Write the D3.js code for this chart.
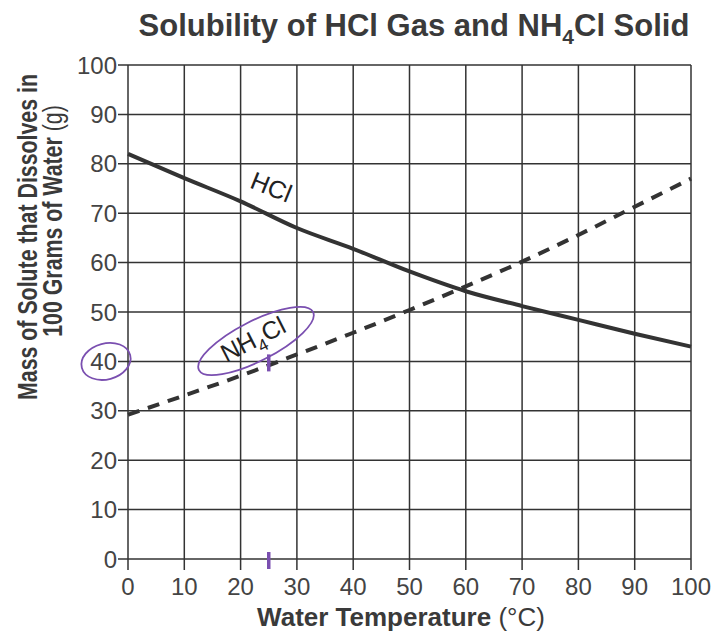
<!DOCTYPE html>
<html>
<head>
<meta charset="utf-8">
<script src="https://cdn.jsdelivr.net/npm/d3@7"></script>
<style>
  body { margin: 0; background: #fff; }
  text { font-family: "Liberation Sans", Arial, Helvetica, sans-serif; fill: #333; }
</style>
</head>
<body>
<div id="chart"></div>
<script>
// data
const temps = [0, 10, 20, 30, 40, 50, 60, 70, 80, 90, 100]
const hclMass = [82, 77.1, 72.4, 67, 62.8, 58.2, 54.2, 51.2, 48.4, 45.6, 43]
const nh4clMass = [29.2, 33.1, 37.1, 41.4, 45.8, 50.4, 55.2, 60.2, 65.6, 71.3, 77]
const xTicks = [0, 10, 20, 30, 40, 50, 60, 70, 80, 90, 100]
const yTicks = [0, 10, 20, 30, 40, 50, 60, 70, 80, 90, 100]

let width = 714
let height = 637
const ink = "#333"
const pen = "#7a4fb0"

let svg = d3.select("#chart")
  .append("svg")
  .attr("width", width)
  .attr("height", height)

let x = d3.scaleLinear().domain([0, 100]).range([128, 691])
let y = d3.scaleLinear().domain([0, 100]).range([559, 65])

// grid
svg.append("g")
  .selectAll("line")
  .data(xTicks)
  .enter().append("line")
  .attr("x1", d => x(d)).attr("x2", d => x(d))
  .attr("y1", y(100)).attr("y2", y(0) + 11)
  .attr("stroke", ink).attr("stroke-width", 1.5)

svg.append("g")
  .selectAll("line")
  .data(yTicks)
  .enter().append("line")
  .attr("x1", x(0) - 10).attr("x2", x(100))
  .attr("y1", d => y(d)).attr("y2", d => y(d))
  .attr("stroke", ink).attr("stroke-width", 1.5)

// tick labels
svg.append("g")
  .selectAll("text")
  .data(yTicks)
  .enter().append("text")
  .attr("x", x(0) - 11)
  .attr("y", d => y(d) + 8.5)
  .attr("text-anchor", "end")
  .style("font-size", "24px")
  .style("fill", "#444")
  .text(d => d)

svg.append("g")
  .selectAll("text")
  .data(xTicks)
  .enter().append("text")
  .attr("x", d => x(d))
  .attr("y", 595)
  .attr("text-anchor", "middle")
  .style("font-size", "24px")
  .style("fill", "#444")
  .text(d => d)

// curves
let line = d3.line()
  .x((d, i) => x(temps[i]))
  .y(d => y(d))
  .curve(d3.curveMonotoneX)

svg.append("path")
  .attr("d", line(hclMass))
  .attr("fill", "none")
  .attr("stroke", ink)
  .attr("stroke-width", 4)

svg.append("path")
  .attr("d", line(nh4clMass))
  .attr("fill", "none")
  .attr("stroke", ink)
  .attr("stroke-width", 4)
  .attr("stroke-dasharray", "12,9")

// curve labels
svg.append("text")
  .attr("transform", "translate(268,195) rotate(22)")
  .attr("text-anchor", "middle")
  .style("font-size", "25px")
  .style("fill", "#222")
  .text("HCl")

let nh = svg.append("text")
  .attr("transform", "translate(257,347) rotate(-27)")
  .attr("text-anchor", "middle")
  .style("font-size", "25px")
  .style("fill", "#222")
nh.append("tspan").text("NH")
nh.append("tspan").attr("dy", 7).style("font-size", "17px").text("4")
nh.append("tspan").attr("dy", -7).text("Cl")

// hand drawn pen marks
svg.append("ellipse")
  .attr("transform", "translate(256,341) rotate(-27)")
  .attr("rx", 64).attr("ry", 20)
  .attr("fill", "none").attr("stroke", pen).attr("stroke-width", 1.8)

svg.append("ellipse")
  .attr("transform", `translate(${x(0) - 22},${y(40)}) rotate(-15)`)
  .attr("rx", 25).attr("ry", 18)
  .attr("fill", "none").attr("stroke", pen).attr("stroke-width", 1.8)

svg.append("g")
  .selectAll("line")
  .data([40, 0])
  .enter().append("line")
  .attr("x1", x(25)).attr("x2", x(25))
  .attr("y1", d => y(d) - 7).attr("y2", d => y(d) + 10)
  .attr("stroke", pen).attr("stroke-width", 3.5)

// title
let title = svg.append("text")
  .attr("x", 414)
  .attr("y", 36)
  .attr("text-anchor", "middle")
  .style("font-size", "31px")
  .style("font-weight", "bold")
  .style("fill", "#3a3a3a")
title.append("tspan").text("Solubility of HCl Gas and NH")
title.append("tspan").attr("dy", 8).style("font-size", "21px").text("4")
title.append("tspan").attr("dy", -8).text("Cl Solid")

// axis titles
let xt = svg.append("text")
  .attr("x", 401)
  .attr("y", 626)
  .attr("text-anchor", "middle")
  .style("font-size", "26px")
  .style("fill", "#3a3a3a")
xt.append("tspan").style("font-weight", "bold").text("Water Temperature ")
xt.append("tspan").text("(°C)")

// y title is squeezed along its length, as in the scan
const squeeze = 0.79
let yt = svg.append("g")
  .attr("transform", `translate(0,237) rotate(-90) scale(${squeeze},1)`)
yt.append("text")
  .attr("x", 0).attr("y", 37)
  .attr("text-anchor", "middle")
  .style("font-size", "27px")
  .style("font-weight", "bold")
  .style("fill", "#3a3a3a")
  .text("Mass of Solute that Dissolves in")
let yt2 = yt.append("text")
  .attr("x", 16 / squeeze).attr("y", 62)
  .attr("text-anchor", "middle")
  .style("font-size", "27px")
  .style("fill", "#3a3a3a")
yt2.append("tspan").style("font-weight", "bold").text("100 Grams of Water ")
yt2.append("tspan").text("(g)")
</script>
</body>
</html>
